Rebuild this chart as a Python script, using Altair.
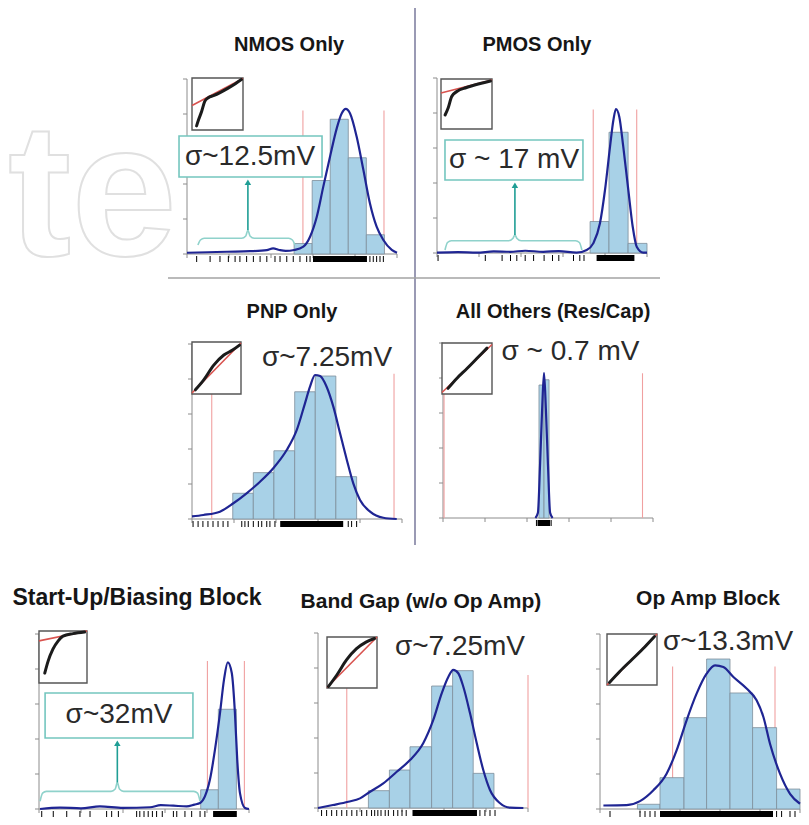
import altair as alt
import pandas as pd

FONT = "Liberation Sans"
H = 175
CW, CH = 793, 809

BAR_FILL = "#a8d1e7"
BAR_STROKE = "#7d8e9a"
KDE = "#1f2593"
RED = "#f0a0a0"
TEAL_BOX = "#74c6bf"
TEAL_ARROW = "#1f9e95"
TEAL_BRACE = "#8fd2cb"
AX = "#8c8c8c"
TXT = "#2a2a2a"

axis_ticks = [0, 20, 40, 60, 80, 100]

# ---------------- NMOS Only ----------------
nmos_bins = [51.0, 59.6, 68.2, 76.8, 85.4, 94.0]
nmos_counts = [6, 42, 77, 55, 11]
nmos_kde_x = [0, 10, 19, 30, 38, 41, 44, 47, 51, 55.4, 58.6, 61.8, 64.9, 68.1, 71.3, 73.7, 75.6, 77.6, 80.8, 84.0, 87.1, 90.3, 93.5, 97.5, 100]
nmos_kde_y = [0.7, 1.0, 1.3, 1.6, 2.2, 3.2, 2.3, 1.8, 2.3, 4.2, 9.9, 21.3, 38.5, 55.6, 71.8, 80.4, 82.9, 80.4, 67.0, 48.0, 29.0, 15.6, 8.0, 2.3, 0.7]
nmos_limits = [55.2, 93.8]
nmos_rug = [4.6, 11, 15.7, 19.7, 22.9, 25.2, 28.4, 31.6, 34.8, 38, 41.9, 44.3, 47.5, 50.6, 53.8, 57, 58.6, 87.1, 88.7, 90.3, 91.9, 93.5]
nmos_dense = [60.0, 85.7]
nmos_qq_x = [0.09, 0.13, 0.19, 0.25, 0.32, 0.42, 0.55, 0.7, 0.85, 0.97]
nmos_qq_y = [0.08, 0.2, 0.36, 0.55, 0.62, 0.66, 0.72, 0.8, 0.89, 0.97]
nmos_qq_ref = [0.47, 0.99]

# ---------------- PMOS Only ----------------
pmos_bins = [72.9, 81.9, 91.0, 100.0]
pmos_counts = [18, 69, 5.5]
pmos_kde_x = [0, 10, 19, 27, 34.8, 42, 50.6, 58, 66.5, 71.3, 74.4, 77.6, 80.0, 82.4, 84.0, 85.2, 86.8, 88.7, 91.1, 93.2, 95.1, 98.2, 100]
pmos_kde_y = [0.2, 0.5, 0.2, 0.9, 0.7, 1.3, 0.7, 1.1, 0.2, 1.7, 5.5, 17, 36, 60.8, 76, 82.3, 77.9, 60.8, 36, 15, 3.6, 0.2, 0.2]
pmos_limits = [74.4, 95.1]
pmos_rug = [0.5, 23, 31, 35, 38, 42, 46, 51, 55, 58, 65, 68, 70]
pmos_dense = [76.0, 94.0]
pmos_qq_x = [0.08, 0.14, 0.21, 0.31, 0.5, 0.77, 0.97]
pmos_qq_y = [0.28, 0.42, 0.65, 0.75, 0.83, 0.91, 0.96]
pmos_qq_ref = [0.72, 0.98]

# ---------------- PNP Only ----------------
pnp_bins = [19.4, 29.2, 39.0, 48.9, 58.7, 68.5, 78.4]
pnp_counts = [14.7, 26.5, 39, 72.7, 81.7, 24.2]
pnp_kde_x = [0, 5.4, 13.3, 19.7, 26, 32.4, 38.7, 45.1, 49.9, 53.8, 56.2, 58.6, 61, 64.1, 67.3, 70.5, 73.7, 76.8, 80, 84.8, 91.1, 97.5]
pnp_kde_y = [1.5, 2.3, 4.2, 9, 14.7, 21.3, 29, 39.4, 50.9, 66.1, 75.6, 82.3, 81.7, 75.6, 64.2, 49, 33.9, 20.4, 10.9, 4.2, 0.7, 0]
pnp_limits = [9.4, 96.2]
pnp_rug = [0.5, 2.9, 5.2, 7.6, 10, 12.4, 14.8, 17.1, 23.7, 25.2, 26.8, 29.2, 31.6, 33.2, 35.6, 37.1, 39.5, 74.4, 76, 78.4]
pnp_dense = [42.0, 72.0]
pnp_qq_x = [0.07, 0.24, 0.44, 0.65, 0.82, 0.97]
pnp_qq_y = [0.08, 0.27, 0.55, 0.75, 0.84, 0.94]
pnp_qq_ref = [0.02, 0.98]

# ---------------- All Others (Res/Cap) ----------------
oth_bins = [45.7, 48.1, 50.5]
oth_counts = [76, 79]
oth_kde_x = [44.0, 45.2, 46.2, 47.2, 48.1, 49.0, 50.0, 51.0, 52.2]
oth_kde_y = [0, 3, 30, 62, 83, 62, 30, 3, 0]
oth_limits = [0.5, 95.0]
oth_rug = [44.5, 51.5]
oth_dense = [45.0, 51.0]
oth_qq_x = [0.12, 0.3, 0.5, 0.7, 0.9]
oth_qq_y = [0.11, 0.31, 0.5, 0.7, 0.9]
oth_qq_ref = [0.03, 0.97]

# ---------------- Start-Up/Biasing Block ----------------
st_bins = [77.0, 85.4, 94.0]
st_counts = [11, 57]
st_kde_x = [0.5, 10, 20, 29, 40, 52.9, 58, 64, 70.3, 74, 76.7, 79, 81.4, 83.8, 86.2, 88.1, 89.9, 91.8, 93.3, 94.4, 95.7, 98.1, 100]
st_kde_y = [0, 0.8, 0.4, 1.5, 0.6, 1.0, 2.2, 1.9, 1.5, 2.5, 3.4, 7.2, 16.8, 33.9, 54.9, 73.9, 83.8, 77.7, 54.9, 28.2, 9.1, 0.6, 0]
st_limits = [80.2, 97.8]
st_rug = [1.3, 6.8, 13.2, 19.5, 24.3, 32.2, 34.6, 37.8, 46.5, 48, 50, 52, 54, 56, 58.7, 64, 65.6, 69.5, 72.7, 76.7, 79]
st_dense = [82.9, 94.2]
st_qq_x = [0.12, 0.19, 0.29, 0.4, 0.5, 0.71, 0.95]
st_qq_y = [0.19, 0.42, 0.65, 0.81, 0.9, 0.95, 0.98]
st_qq_ref = [0.81, 1.0]

# ---------------- Band Gap (w/o Op Amp) ----------------
bg_bins = [24, 34, 43.8, 54.1, 64.1, 73.9, 83.8]
bg_counts = [9.9, 21.7, 35, 69.7, 78.5, 19.8]
bg_kde_x = [0, 7.1, 14.4, 20, 24.8, 31.1, 37.5, 43.8, 50.1, 54.9, 58.9, 62.1, 64.4, 66.8, 69.2, 72.4, 75.6, 78.7, 81.9, 86.7, 91.4, 97.8]
bg_kde_y = [0, 1.7, 3.6, 5.5, 9.3, 14.1, 20.7, 27.4, 37, 50.3, 65.5, 75, 78.9, 77, 69.3, 54.1, 37, 21.7, 10.3, 2.7, 0.2, 0]
bg_limits = [13.7, 100.0]
bg_rug = [1.7, 4.1, 6.5, 8.9, 11.3, 13.7, 16.1, 18.5, 20.8, 23.2, 25.5, 27, 28.5, 30, 32, 33.5, 36, 38, 40, 42, 77.1, 79.5, 81.9, 84.3]
bg_dense = [45.0, 75.7]
bg_qq_x = [0.03, 0.2, 0.39, 0.59, 0.78, 0.95]
bg_qq_y = [0.03, 0.26, 0.55, 0.77, 0.9, 0.97]
bg_qq_ref = [0.01, 1.0]

# ---------------- Op Amp Block ----------------
oa_bins = [18.7, 30, 42, 53.3, 65, 76.3, 88.3, 100]
oa_counts = [2.7, 17.9, 52.2, 85.7, 66.3, 46.5, 11.4]
oa_kde_x = [1.7, 13.3, 20, 26.7, 33.3, 38.3, 43.3, 48.3, 53.3, 57.5, 61.7, 66.7, 73.3, 78.3, 81.7, 85, 90, 95, 100]
oa_kde_y = [2, 2.2, 4.5, 10.7, 20.2, 33.5, 50.7, 65.9, 77.3, 82.1, 81.1, 75.4, 68.8, 62.1, 52.6, 37.3, 20.2, 8.7, 3]
oa_limits = [36.3, 87.5]
oa_rug = [5, 20, 22.5, 25, 27.5, 88.3, 90.8, 95, 97.5]
oa_dense = [30.0, 86.5]
oa_qq_x = [0.05, 0.25, 0.5, 0.75, 0.95]
oa_qq_y = [0.05, 0.26, 0.5, 0.74, 0.95]
oa_qq_ref = [0.0, 1.0]

watermark_left = "te"


def panel(title, tsize, txy, L, B, W, bins, counts, kx, ky, limits, ltop, rug, dense,
          qx, qy, qref, inset, label, lxy, box=None, brace=None):
    xs = alt.Scale(domain=[0, 100], range=[L, L + W], nice=False, zero=False)
    ys = alt.Scale(domain=[0, 100], range=[B, B - H], nice=False, zero=False)

    def X(f):
        return alt.X(f, scale=xs, axis=None)

    def Y(f):
        return alt.Y(f, scale=ys, axis=None)

    layers = []
    # axes (drawn through the panel scales)
    layers.append(alt.Chart(pd.DataFrame({"a": [0], "b": [100]})).mark_rule(color=AX, strokeWidth=1).encode(
        x=X("a:Q"), x2="b:Q", y=alt.Y("a:Q", scale=ys, axis=None)))
    layers.append(alt.Chart(pd.DataFrame({"a": [0], "b": [100]})).mark_rule(color=AX, strokeWidth=1).encode(
        x=alt.X("a:Q", scale=xs, axis=None), y=Y("a:Q"), y2="b:Q"))
    tk = pd.DataFrame({"v": axis_ticks})
    layers.append(alt.Chart(tk).mark_rule(color=AX, strokeWidth=1).encode(
        x=X("v:Q"), y=alt.value(B), y2=alt.value(B + 4)))
    layers.append(alt.Chart(tk).mark_rule(color=AX, strokeWidth=1).encode(
        y=Y("v:Q"), x=alt.value(L - 4), x2=alt.value(L)))

    lim = pd.DataFrame({"x": limits, "top": [ltop] * len(limits)})
    layers.append(alt.Chart(lim).mark_rule(color=RED, strokeWidth=1.1).encode(
        x=X("x:Q"), y=Y("top:Q"), y2=alt.datum(0)))
    hist = pd.DataFrame({"lo": bins[:-1], "hi": bins[1:], "n": counts})
    layers.append(alt.Chart(hist).mark_rect(fill=BAR_FILL, stroke=BAR_STROKE, strokeWidth=0.8).encode(
        x=X("lo:Q"), x2="hi:Q", y=Y("n:Q"), y2=alt.datum(0)))
    kde = pd.DataFrame({"x": kx, "y": ky})
    layers.append(alt.Chart(kde).mark_line(color=KDE, strokeWidth=2.2, interpolate="monotone").encode(
        x=X("x:Q"), y=Y("y:Q")))
    if rug:
        layers.append(alt.Chart(pd.DataFrame({"x": rug})).mark_rule(color="black", strokeWidth=1).encode(
            x=X("x:Q"), y=alt.value(B + 2), y2=alt.value(B + 8)))
    dn = pd.DataFrame({"a": [dense[0]], "b": [dense[1]]})
    layers.append(alt.Chart(dn).mark_rect(color="black").encode(
        x=X("a:Q"), x2="b:Q", y=alt.value(B + 2), y2=alt.value(B + 8)))
    if box is not None:
        bdf = pd.DataFrame({"x0": [box[0]], "x1": [box[1]], "y0": [box[2]], "y1": [box[3]]})
        layers.append(alt.Chart(bdf).mark_rect(fill="white", stroke=TEAL_BOX, strokeWidth=1.6).encode(
            x=X("x0:Q"), x2="x1:Q", y=Y("y0:Q"), y2="y1:Q"))
    if brace is not None:
        x0, x1, xc, ye, yl, yp, ytop = brace
        bx = [x0, x0 + 1.2, x0 + 3, xc - 3, xc - 1, xc, xc + 1, xc + 3, x1 - 3, x1 - 1.2, x1]
        by = [ye, yl - 1.0, yl, yl, yl + 1.3, yp, yl + 1.3, yl, yl, yl - 1.0, ye]
        brdf = pd.DataFrame({"x": bx, "y": by, "i": list(range(len(bx)))})
        layers.append(alt.Chart(brdf).mark_line(color=TEAL_BRACE, strokeWidth=1.6, interpolate="monotone").encode(
            x=X("x:Q"), y=Y("y:Q"), order="i:Q"))
        adf = pd.DataFrame({"x": [xc], "y0": [yp], "y1": [ytop - 3.5]})
        layers.append(alt.Chart(adf).mark_rule(color=TEAL_ARROW, strokeWidth=1.6).encode(
            x=X("x:Q"), y=Y("y0:Q"), y2="y1:Q"))
        tdf = pd.DataFrame({"x": [xc], "y": [ytop - 3.0]})
        layers.append(alt.Chart(tdf).mark_point(shape="triangle-up", filled=True, size=42,
                                                color=TEAL_ARROW, opacity=1).encode(
            x=X("x:Q"), y=Y("y:Q")))
    ldf = pd.DataFrame({"x": [lxy[0]], "y": [lxy[1]], "t": [label]})
    layers.append(alt.Chart(ldf).mark_text(font=FONT, fontSize=28, color=TXT, align="center",
                                          baseline="middle").encode(
        x=X("x:Q"), y=Y("y:Q"), text="t:N"))
    tdf2 = pd.DataFrame({"x": [txy[0]], "y": [txy[1]], "t": [title]})
    layers.append(alt.Chart(tdf2).mark_text(font=FONT, fontSize=tsize, fontWeight="bold", color="#161616",
                                           align="center", baseline="middle").encode(
        x=X("x:Q"), y=Y("y:Q"), text="t:N"))
    main = alt.layer(*layers)

    top = B - H
    ixs = alt.Scale(domain=[0, 1], range=[L + inset[0], L + inset[1]], nice=False, zero=False)
    iys = alt.Scale(domain=[0, 1], range=[top + inset[3], top + inset[2]], nice=False, zero=False)
    ib = alt.Chart(pd.DataFrame({"a": [0], "b": [1]})).mark_rect(
        fill="white", stroke="#555555", strokeWidth=1.4).encode(
        x=alt.X("a:Q", scale=ixs, axis=None), x2="b:Q",
        y=alt.Y("a:Q", scale=iys, axis=None), y2="b:Q")
    ir = alt.Chart(pd.DataFrame({"x": [0, 1], "y": qref})).mark_line(
        color="#d9534f", strokeWidth=1.6).encode(
        x=alt.X("x:Q", scale=ixs, axis=None), y=alt.Y("y:Q", scale=iys, axis=None))
    iq = alt.Chart(pd.DataFrame({"x": qx, "y": qy})).mark_line(
        color="#1b1b1b", strokeWidth=3, interpolate="monotone", strokeCap="round").encode(
        x=alt.X("x:Q", scale=ixs, axis=None), y=alt.Y("y:Q", scale=iys, axis=None))
    ins = alt.layer(ib, ir, iq)
    return [main, ins]


one = pd.DataFrame({"k": [0]})
children = []
# faint publisher watermark (outline letters) behind everything
children.append(alt.Chart(pd.DataFrame({"t": [watermark_left]})).mark_text(
    font=FONT, fontSize=190, fontWeight="bold", fill="white", stroke="#e0e0e0", strokeWidth=2,
    align="left", baseline="alphabetic").encode(
    x=alt.value(0), y=alt.value(247), text="t:N"))

children += panel("NMOS Only", 20, (48.6, 119.4), 179, 246, 210, nmos_bins, nmos_counts, nmos_kde_x, nmos_kde_y,
                  nmos_limits, 82, nmos_rug, nmos_dense, nmos_qq_x, nmos_qq_y, nmos_qq_ref,
                  [5, 56, -1, 51], "σ~12.5mV", (30, 55.4),
                  box=(-3.8, 64.3, 44, 67.4), brace=(5.2, 51.4, 29, 5.1, 9, 13.7, 44))
children += panel("PMOS Only", 20, (47.6, 118.9), 429, 245, 210, pmos_bins, pmos_counts, pmos_kde_x, pmos_kde_y,
                  pmos_limits, 82, pmos_rug, pmos_dense, pmos_qq_x, pmos_qq_y, pmos_qq_ref,
                  [4, 55, 1, 51], "σ ~ 17 mV", (36.7, 53),
                  box=(3.8, 69.5, 41.7, 64.6), brace=(3.8, 69, 37.1, 1.7, 7, 10.3, 41.7))
children += panel("PNP Only", 20, (47.6, 118.3), 184, 511, 210, pnp_bins, pnp_counts, pnp_kde_x, pnp_kde_y,
                  pnp_limits, 83, pnp_rug, pnp_dense, pnp_qq_x, pnp_qq_y, pnp_qq_ref,
                  [0, 49, -2, 50], "σ~7.25mV", (64.3, 92))
children += panel("All Others (Res/Cap)", 20, (52.4, 117.7), 435, 510, 210, oth_bins, oth_counts, oth_kde_x, oth_kde_y,
                  oth_limits, 82.7, oth_rug, oth_dense, oth_qq_x, oth_qq_y, oth_qq_ref,
                  [-1, 49, 0, 51], "σ ~ 0.7 mV", (60.7, 95))
children += panel("Start-Up/Biasing Block", 23, (46.7, 120.6), 31, 801, 210, st_bins, st_counts, st_kde_x, st_kde_y,
                  st_limits, 84.6, st_rug, st_dense, st_qq_x, st_qq_y, st_qq_ref,
                  [0, 48, -3, 49], "σ~32mV", (38.1, 53.5),
                  box=(2.9, 73.3, 40.6, 66.3), brace=(0.5, 76.7, 37.3, 4.4, 10.1, 15.2, 40.6))
children += panel("Band Gap (w/o Op Amp)", 21, (49, 117.7), 310, 800, 210, bg_bins, bg_counts, bg_kde_x, bg_kde_y,
                  bg_limits, 76, bg_rug, bg_dense, bg_qq_x, bg_qq_y, bg_qq_ref,
                  [9, 59, 4, 55], "σ~7.25mV", (67.6, 92))
children += panel("Op Amp Block", 21, (54, 120), 592, 801, 200, oa_bins, oa_counts, oa_kde_x, oa_kde_y,
                  oa_limits, 81.5, oa_rug, oa_dense, oa_qq_x, oa_qq_y, oa_qq_ref,
                  [7, 57, 0, 51], "σ~13.3mV", (64, 95.4))

dividers = alt.layer(
    alt.Chart(one).mark_rule(color="#9a9ab4", strokeWidth=2).encode(
        x=alt.value(407), y=alt.value(0), y2=alt.value(537)),
    alt.Chart(one).mark_rule(color="#a3a3a3", strokeWidth=1.5).encode(
        x=alt.value(160), x2=alt.value(652), y=alt.value(270)),
)
children.append(dividers)

chart = alt.layer(*children).resolve_scale(x="independent", y="independent").properties(
    width=CW, height=CH, padding=0, background="white",
    autosize=alt.AutoSizeParams(type="none")
).configure_view(stroke="transparent", strokeWidth=0)

chart.save("out.html", embed_options={"renderer": "svg", "actions": False})
